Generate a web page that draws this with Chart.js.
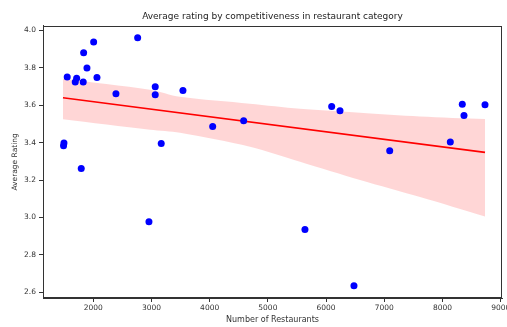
<!DOCTYPE html>
<html>
<head>
<meta charset="utf-8">
<script src="https://cdn.jsdelivr.net/npm/chart.js@4.4.1/dist/chart.umd.min.js"></script>
<style>
  html, body { margin: 0; padding: 0; background: #fff; overflow: hidden; }
  #wrap { width: 507px; height: 327px; position: relative; }
</style>
</head>
<body>
<div id="wrap"><canvas id="c"></canvas></div>
<script>
// ---- data ----
const restaurantCounts = [1553, 1497, 1490, 1715, 1691, 1828, 1794, 1835, 1892, 2007, 2064, 2390, 2763, 2957, 3065, 3065, 3168, 3541, 4052, 4584, 5637, 6096, 6239, 6479, 7093, 8134, 8340, 8369, 8730];
const avgRatings      = [3.751, 3.398, 3.383, 3.745, 3.724, 3.724, 3.262, 3.881, 3.799, 3.938, 3.749, 3.661, 3.961, 2.977, 3.699, 3.656, 3.396, 3.679, 3.487, 3.517, 2.936, 3.594, 3.571, 2.635, 3.357, 3.403, 3.606, 3.545, 3.603];

const fitX = [1480, 8730];
const fitY = [3.640, 3.348];

const bandX     = [1480, 2974, 3490, 4692, 5552, 6583, 7613, 8730];
const bandUpper = [3.742, 3.683, 3.645, 3.608, 3.581, 3.560, 3.540, 3.526];
const bandLower = [3.525, 3.469, 3.453, 3.378, 3.298, 3.200, 3.109, 3.005];

const xTicks = [2000, 3000, 4000, 5000, 6000, 7000, 8000, 9000];
const yTicks = [2.6, 2.8, 3.0, 3.2, 3.4, 3.6, 3.8, 4.0];

const titleText = 'Average rating by competitiveness in restaurant category';
const xTitle = 'Number of Restaurants';
const yTitle = 'Average Rating';

// ---- build ----
const pts = restaurantCounts.map((x, i) => ({ x: x, y: avgRatings[i] }));
const fitPts = fitX.map((x, i) => ({ x: x, y: fitY[i] }));
const upPts = bandX.map((x, i) => ({ x: x, y: bandUpper[i] }));
const loPts = bandX.map((x, i) => ({ x: x, y: bandLower[i] }));

const FONT = 'DejaVu Sans';
const INK = '#333';

const frame = {
  id: 'frame',
  afterDraw(chart) {
    const a = chart.chartArea, ctx = chart.ctx;
    ctx.save();
    ctx.strokeStyle = '#333';
    ctx.lineWidth = 1;
    ctx.strokeRect(Math.round(a.left) + 0.5, Math.round(a.top) + 0.5,
                   Math.round(a.right - a.left) - 1, Math.round(a.bottom - a.top) - 1);
    ctx.restore();
  }
};

new Chart(document.getElementById('c'), {
  type: 'scatter',
  data: {
    datasets: [
      { label: 'restaurants', data: pts, order: 0,
        backgroundColor: '#0000ff', borderColor: '#0000ff', borderWidth: 0,
        pointRadius: 3.5, pointHoverRadius: 3.5 },
      { label: 'fit', data: fitPts, order: 1, showLine: true,
        borderColor: '#ff0000', borderWidth: 1.6, pointRadius: 0, fill: false },
      { label: 'ci upper', data: upPts, order: 2, showLine: true,
        borderColor: 'rgba(0,0,0,0)', borderWidth: 1, pointRadius: 0,
        backgroundColor: 'rgba(255,0,0,0.16)', fill: '+1', tension: 0.3 },
      { label: 'ci lower', data: loPts, order: 3, showLine: true,
        borderColor: 'rgba(0,0,0,0)', borderWidth: 1, pointRadius: 0, fill: false, tension: 0.3 }
    ]
  },
  options: {
    responsive: true,
    maintainAspectRatio: false,
    animation: false,
    events: [],
    layout: { padding: { left: 0, right: 5, top: 0, bottom: 0 } },
    plugins: {
      legend: { display: false },
      tooltip: { enabled: false },
      title: {
        display: true, text: titleText, fullSize: false,
        color: '#222', font: { family: FONT, size: 9, weight: 'normal' },
        padding: { top: 11, bottom: 4 }
      }
    },
    scales: {
      x: {
        type: 'linear', min: 1137, max: 9022,
        afterBuildTicks(s) { s.ticks = xTicks.map(v => ({ value: v })); },
        afterFit(s) { s.height = 29; s.paddingLeft = 0; s.paddingRight = 0; },
        grid: { display: true, drawOnChartArea: false, drawTicks: true, tickLength: 4, color: '#333' },
        border: { display: true, color: '#333' },
        ticks: { color: INK, font: { family: FONT, size: 7.5 }, padding: 2, maxRotation: 0, autoSkip: false,
                 callback: v => String(v) },
        title: { display: true, text: xTitle, color: INK, font: { family: FONT, size: 8 },
                 padding: { top: 0, bottom: 2 } }
      },
      y: {
        type: 'linear', min: 2.569, max: 4.025,
        afterBuildTicks(s) { s.ticks = yTicks.map(v => ({ value: v })); },
        afterFit(s) { s.width = 43; s.paddingTop = 0; s.paddingBottom = 0; },
        grid: { display: true, drawOnChartArea: false, drawTicks: true, tickLength: 4, color: '#333' },
        border: { display: true, color: '#333' },
        ticks: { color: INK, font: { family: FONT, size: 7.5 }, padding: 3, autoSkip: false,
                 callback: v => Number(v).toFixed(1) },
        title: { display: true, text: yTitle, color: INK, font: { family: FONT, size: 7.5 },
                 padding: { top: 11, bottom: 0 } }
      }
    }
  },
  plugins: [frame]
});
</script>
</body>
</html>
